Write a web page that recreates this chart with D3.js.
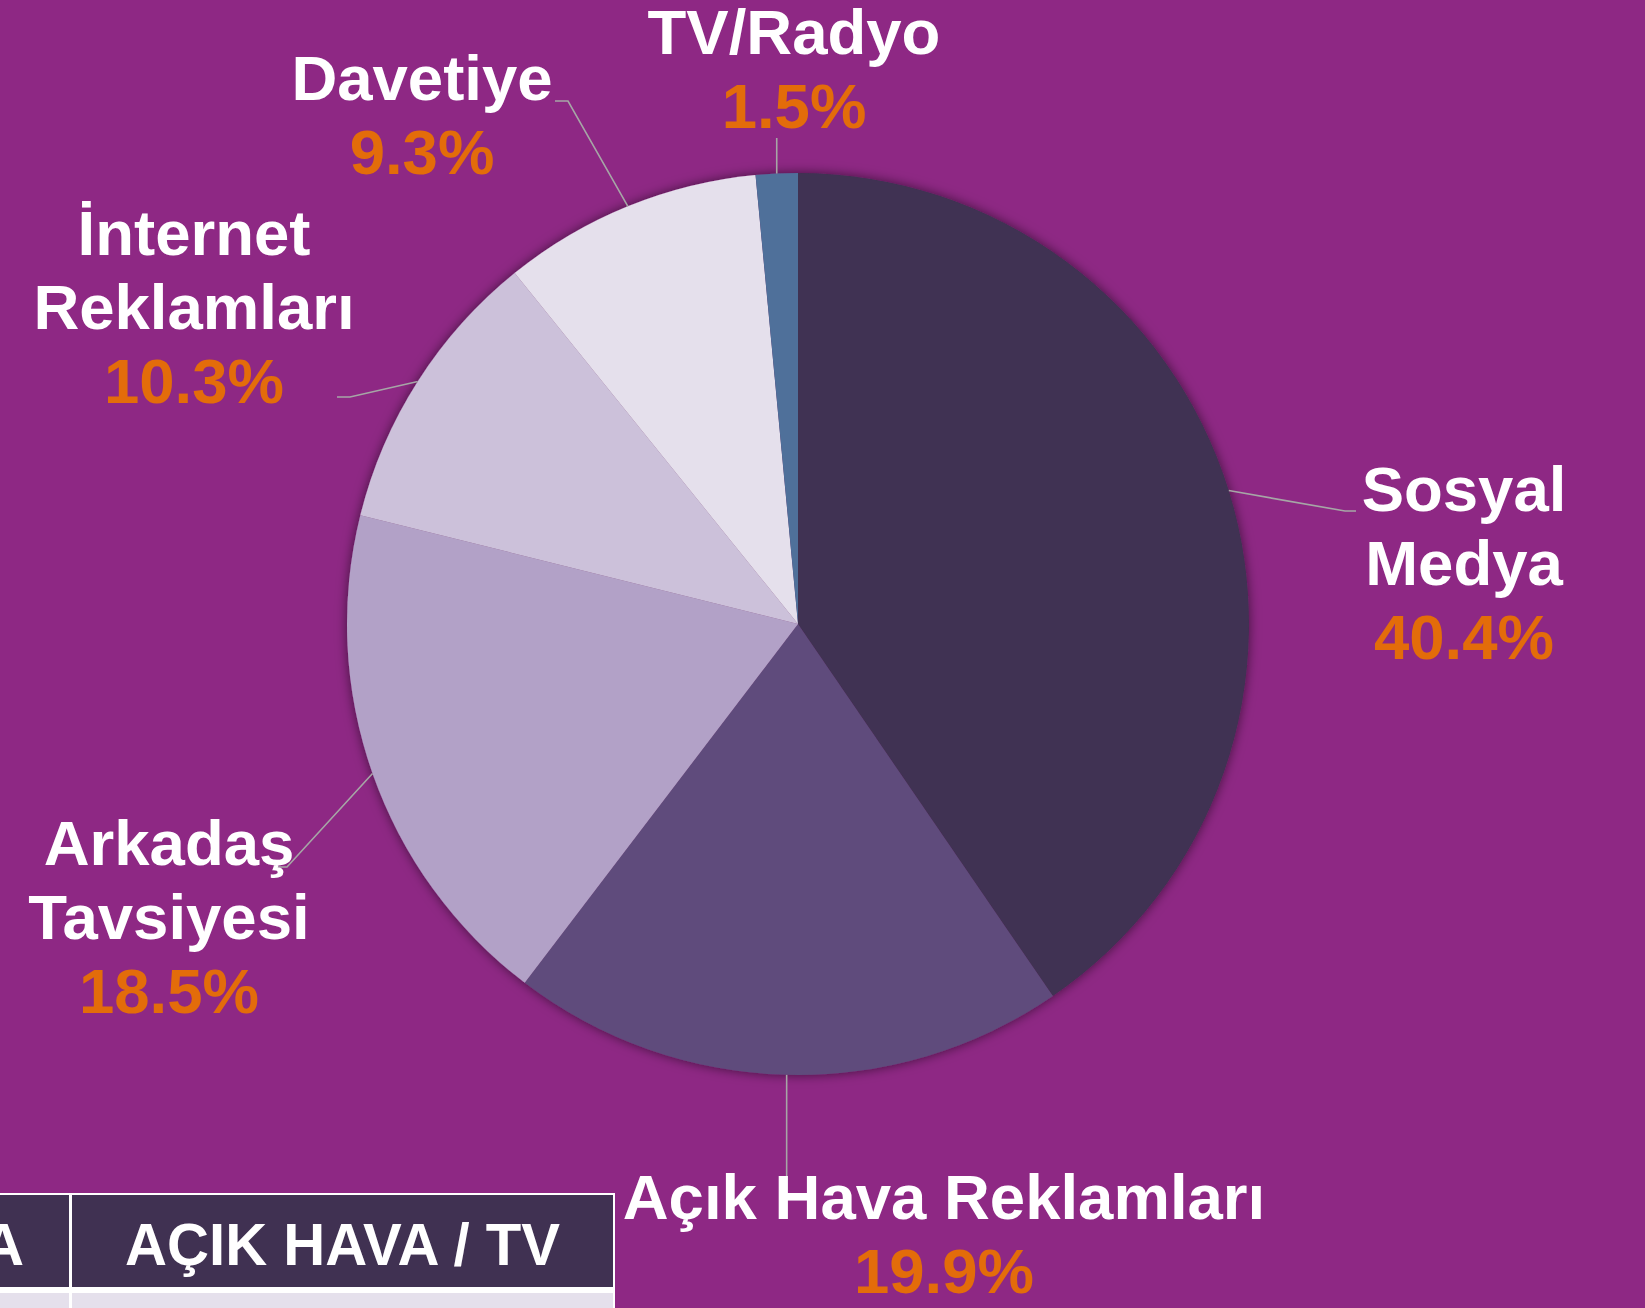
<!DOCTYPE html>
<html lang="tr">
<head>
<meta charset="utf-8">
<title>Reklam Kanalları</title>
<script src="https://cdn.jsdelivr.net/npm/d3@7"></script>
<style>
  html, body { margin: 0; padding: 0; background: #8e2884; overflow: hidden; }
  svg { display: block; }
  text { font-family: "Liberation Sans", Arial, "DejaVu Sans", sans-serif; font-weight: bold; }
</style>
</head>
<body>
<svg id="chart" width="1645" height="1308"></svg>
<script>
// Channel shares (percent), clockwise from 12 o'clock
const categories = ["Sosyal Medya", "Açık Hava Reklamları", "Arkadaş Tavsiyesi", "İnternet Reklamları", "Davetiye", "TV/Radyo"];
const shares = [40.4, 19.9, 18.5, 10.3, 9.3, 1.5];
const sliceColors = ["#403152", "#5f4b7b", "#b2a1c7", "#ccc1da", "#e5e0ec", "#4f6f9a"];
// Category names as they wrap in the labels
const labelLines = [["Sosyal", "Medya"], ["Açık Hava Reklamları"], ["Arkadaş", "Tavsiyesi"], ["İnternet", "Reklamları"], ["Davetiye"], ["TV/Radyo"]];
// Header cells of the table strip along the bottom edge
const tableHeaders = ["A", "AÇIK HAVA / TV"];

const W = 1645, H = 1308;
const cx = 798, cy = 624, R = 451;
const lineGap = 74;

// Where each label sits and how its leader line bends (x null = straight from the slice)
const labelLayout = [
  { x: 1464, y: 511,  leader: [[1345, 511], [1356, 511]] },
  { x: 944,  y: 1219, leader: [[null, 1180]] },
  { x: 169,  y: 865,  leader: [[287, 867], [276, 867]] },
  { x: 194,  y: 255,  leader: [[350, 397], [337, 397]] },
  { x: 422,  y: 100,  leader: [[568, 101], [555, 101]] },
  { x: 794,  y: 54,   leader: [[null, 138]] }
];

const svg = d3.select("#chart");
svg.append("rect").attr("width", W).attr("height", H).attr("fill", "#8e2884");

// Soft glow around the pie
const defs = svg.append("defs");
const glow = defs.append("filter").attr("id", "glow")
  .attr("x", "-10%").attr("y", "-10%").attr("width", "120%").attr("height", "120%");
glow.append("feGaussianBlur").attr("in", "SourceAlpha").attr("stdDeviation", 6).attr("result", "b");
glow.append("feFlood").attr("flood-color", "#000").attr("flood-opacity", 0.55);
glow.append("feComposite").attr("in2", "b").attr("operator", "in").attr("result", "s");
const merge = glow.append("feMerge");
merge.append("feMergeNode").attr("in", "s");
merge.append("feMergeNode").attr("in", "SourceGraphic");

const data = categories.map((c, i) => ({ name: c, value: shares[i], color: sliceColors[i], lines: labelLines[i], layout: labelLayout[i] }));

const pie = d3.pie().sort(null).value(d => d.value).startAngle(0).endAngle(2 * Math.PI);
const arcs = pie(data);
const arc = d3.arc().innerRadius(0).outerRadius(R);
const rim = d3.arc().innerRadius(R).outerRadius(R);

const g = svg.append("g").attr("transform", `translate(${cx},${cy})`);
g.append("g").attr("filter", "url(#glow)")
  .selectAll("path").data(arcs).join("path")
  .attr("d", arc)
  .attr("fill", d => d.data.color);

// Leader lines from the slice rim to each label
const line = d3.line();
svg.append("g").selectAll("path").data(arcs).join("path")
  .attr("fill", "none")
  .attr("stroke", "#a6a6a6")
  .attr("stroke-width", 1.6)
  .attr("d", d => {
    const [sx, sy] = rim.centroid(d);
    const start = [cx + sx, cy + sy];
    const pts = [start].concat(d.data.layout.leader.map(p => [p[0] == null ? start[0] : p[0], p[1]]));
    return line(pts);
  });

// Labels: name lines in white, share in orange
const fmt = d3.format(".1f");
const lab = svg.append("g").selectAll("text").data(arcs).join("text")
  .attr("text-anchor", "middle")
  .attr("font-size", 63.5);
lab.each(function (d) {
  const t = d3.select(this);
  const L = d.data.layout;
  d.data.lines.forEach((s, i) => {
    t.append("tspan").attr("x", L.x).attr("y", L.y + i * lineGap).attr("fill", "#ffffff").text(s);
  });
  t.append("tspan").attr("x", L.x).attr("y", L.y + d.data.lines.length * lineGap)
    .attr("fill", "#e36c0a").text(fmt(d.data.value) + "%");
});

// Table strip at the bottom left
const tbl = svg.append("g");
const tTop = 1193, tHeadBottom = 1287, tRight = 615, colSplit = 70;
tbl.append("rect").attr("x", -5).attr("y", tTop).attr("width", tRight + 5).attr("height", H - tTop + 5).attr("fill", "#ffffff");
tbl.append("rect").attr("x", -5).attr("y", tTop + 2).attr("width", colSplit - 1 + 5).attr("height", tHeadBottom - tTop - 2).attr("fill", "#403152");
tbl.append("rect").attr("x", colSplit + 2).attr("y", tTop + 2).attr("width", tRight - colSplit - 4).attr("height", tHeadBottom - tTop - 2).attr("fill", "#403152");
tbl.append("rect").attr("x", -5).attr("y", tHeadBottom + 6).attr("width", colSplit - 1 + 5).attr("height", 30).attr("fill", "#e5e0ec");
tbl.append("rect").attr("x", colSplit + 2).attr("y", tHeadBottom + 6).attr("width", tRight - colSplit - 4).attr("height", 30).attr("fill", "#e5e0ec");
tbl.append("text").attr("x", 24).attr("y", 1265).attr("text-anchor", "end")
  .attr("font-size", 60).attr("fill", "#ffffff").text(tableHeaders[0]);
tbl.append("text").attr("x", (colSplit + tRight) / 2).attr("y", 1265).attr("text-anchor", "middle")
  .attr("font-size", 60).attr("fill", "#ffffff")
  .attr("textLength", 435).attr("lengthAdjust", "spacingAndGlyphs")
  .text(tableHeaders[1]);
</script>
</body>
</html>
